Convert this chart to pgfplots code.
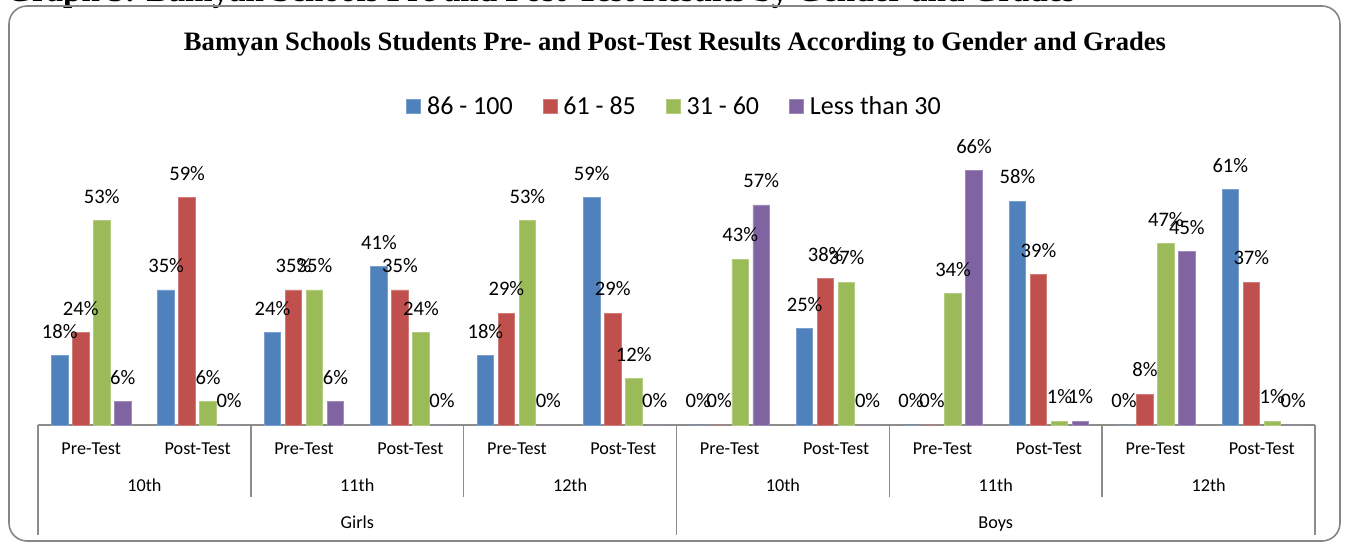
\documentclass[border=0pt]{standalone}
\usepackage{pgfplots}
\pgfplotsset{compat=1.18}
\usepackage{fontspec}
\setmainfont{Carlito}
\newfontfamily\titlefont{Liberation Serif}
\definecolor{cA}{HTML}{4F81BD}
\definecolor{cB}{HTML}{C0504D}
\definecolor{cC}{HTML}{9BBB59}
\definecolor{cD}{HTML}{8064A2}
\definecolor{axgray}{HTML}{8C8C8C}
\definecolor{bordergray}{HTML}{868686}
\pgfplotsset{
  /pgf/number format/assume math mode=true,
  /pgfplots/ybar legend/.style={/pgfplots/legend image code/.code={\fill[##1] (0pt,-3.5pt) rectangle (7pt,3.5pt);}},
}
\begin{document}
\begin{tikzpicture}
\useasboundingbox (0pt,0pt) rectangle (674.5pt,271pt);
\node[anchor=base west, inner sep=0, font=\titlefont\bfseries\fontsize{16.5}{18}\selectfont] at (3pt,270pt) {Graph 5: Bamyan Schools Pre and Post-Test Results by Gender and Grades};
\draw[color=bordergray, line width=0.8pt, rounded corners=9pt] (4.5pt,0.5pt) rectangle (670pt,268pt);
\node[font=\titlefont\bfseries\fontsize{13.3}{15}\selectfont] at (337.5pt,249pt) {Bamyan Schools Students Pre- and Post-Test Results According to Gender and Grades};
\begin{axis}[
  at={(19pt,58.5pt)}, anchor=south west,
  scale only axis, width=638.5pt, height=135.1pt,
  xmin=-0.5, xmax=11.5, ymin=0, ymax=70,
  ybar=2.25pt, bar width=8.25pt,
  hide y axis,
  axis x line*=bottom,
  x axis line style={-, draw=axgray, line width=0.7pt},
  xtick={0,...,11},
  xticklabels={Pre-Test,Post-Test,Pre-Test,Post-Test,Pre-Test,Post-Test,Pre-Test,Post-Test,Pre-Test,Post-Test,Pre-Test,Post-Test},
  major tick length=0pt,
  xticklabel style={font=\fontsize{9.1}{11}\selectfont, anchor=base, yshift=-14.9pt},
  clip=false,
  nodes near coords={\pgfmathprintnumber{\pgfplotspointmeta}\%},
  nodes near coords style={font=\fontsize{10.3}{12}\selectfont, text=black, yshift=5pt},
  legend style={at={(0.5,1)}, anchor=center, yshift=24pt, draw=none, fill=none,
    legend columns=4, font=\fontsize{13}{15}\selectfont,
    nodes={inner xsep=3pt},
    /tikz/every even column/.append style={column sep=12pt}},
]
\addplot[fill=cA, draw=cA!75!white, line width=0.4pt] coordinates {(0,18) (1,35) (2,24) (3,41) (4,18) (5,59) (6,0) (7,25) (8,0) (9,58) (10,0) (11,61)};
\addplot[fill=cB, draw=cB!75!white, line width=0.4pt] coordinates {(0,24) (1,59) (2,35) (3,35) (4,29) (5,29) (6,0) (7,38) (8,0) (9,39) (10,8) (11,37)};
\addplot[fill=cC, draw=cC!75!white, line width=0.4pt] coordinates {(0,53) (1,6) (2,35) (3,24) (4,53) (5,12) (6,43) (7,37) (8,34) (9,1) (10,47) (11,1)};
\addplot[fill=cD, draw=cD!75!white, line width=0.4pt] coordinates {(0,6) (1,0) (2,6) (3,0) (4,0) (5,0) (6,57) (7,0) (8,66) (9,1) (10,45) (11,0)};
\legend{86 - 100,61 - 85,31 - 60,Less than 30}
\draw[axgray, line width=0.7pt] (axis cs:1.5,0) -- ++(0pt,-36pt);
\draw[axgray, line width=0.7pt] (axis cs:3.5,0) -- ++(0pt,-36pt);
\draw[axgray, line width=0.7pt] (axis cs:7.5,0) -- ++(0pt,-36pt);
\draw[axgray, line width=0.7pt] (axis cs:9.5,0) -- ++(0pt,-36pt);
\draw[axgray, line width=0.7pt] (axis cs:-0.5,0) -- ++(0pt,-55pt);
\draw[axgray, line width=0.7pt] (axis cs:5.5,0) -- ++(0pt,-55pt);
\draw[axgray, line width=0.7pt] (axis cs:11.5,0) -- ++(0pt,-55pt);
\node[anchor=base, font=\fontsize{9.1}{11}\selectfont] at (axis cs:0.5,0) [yshift=-33.3pt] {10th};
\node[anchor=base, font=\fontsize{9.1}{11}\selectfont] at (axis cs:2.5,0) [yshift=-33.3pt] {11th};
\node[anchor=base, font=\fontsize{9.1}{11}\selectfont] at (axis cs:4.5,0) [yshift=-33.3pt] {12th};
\node[anchor=base, font=\fontsize{9.1}{11}\selectfont] at (axis cs:6.5,0) [yshift=-33.3pt] {10th};
\node[anchor=base, font=\fontsize{9.1}{11}\selectfont] at (axis cs:8.5,0) [yshift=-33.3pt] {11th};
\node[anchor=base, font=\fontsize{9.1}{11}\selectfont] at (axis cs:10.5,0) [yshift=-33.3pt] {12th};
\node[anchor=base, font=\fontsize{9.1}{11}\selectfont] at (axis cs:2.5,0) [yshift=-51.9pt] {Girls};
\node[anchor=base, font=\fontsize{9.1}{11}\selectfont] at (axis cs:8.5,0) [yshift=-51.9pt] {Boys};
\end{axis}
\end{tikzpicture}
\end{document}
